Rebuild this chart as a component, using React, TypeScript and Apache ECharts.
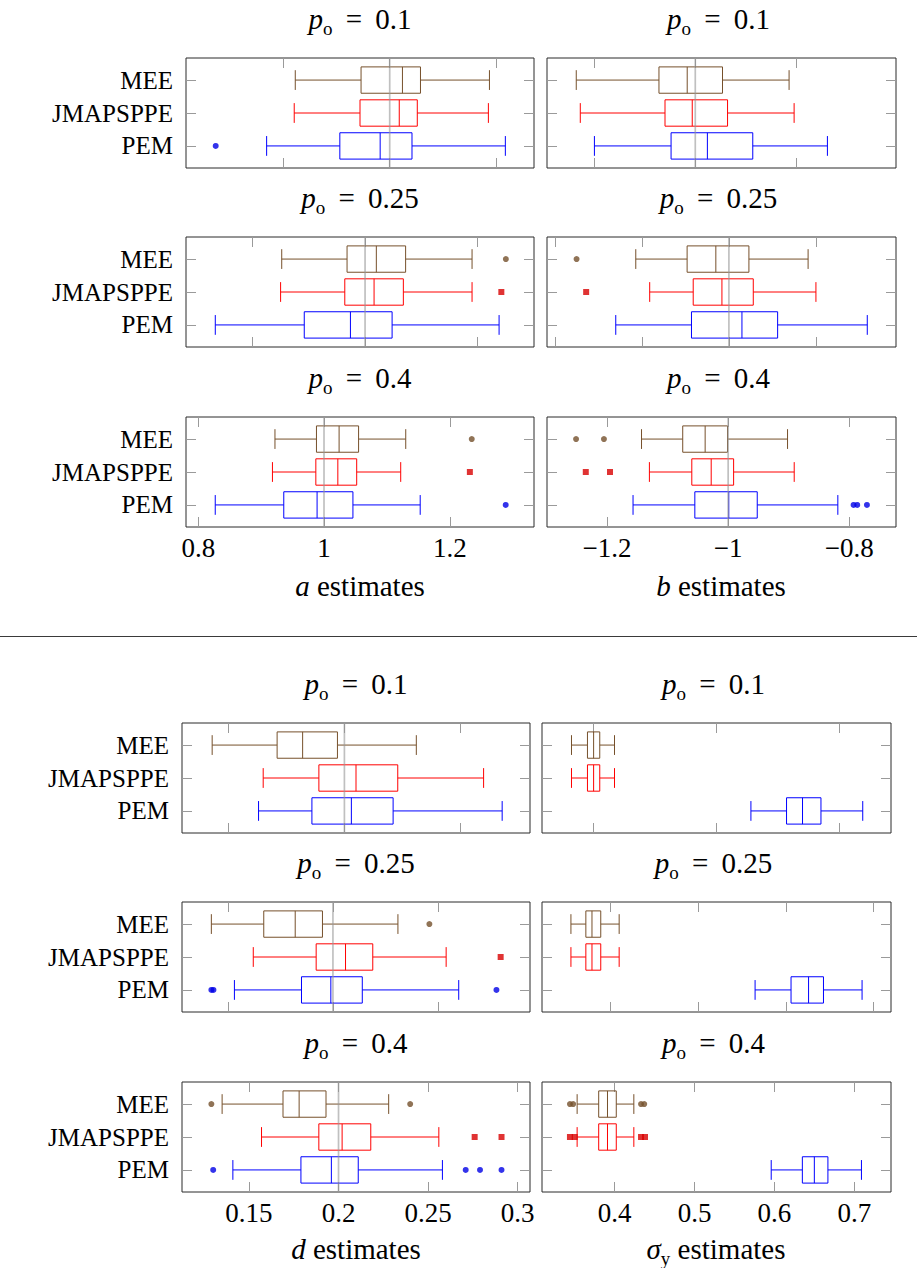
import React, { useEffect, useRef } from 'react';
import * as echarts from 'echarts';

const SERIF = 'Liberation Serif';

const methods = ['MEE', 'JMAPSPPE', 'PEM'];
const methodColors = ['#76502b', '#ff0000', '#0000ff'];
const outlierColors = ['#74502c', '#d80000', '#0000e6'];
const outlierSymbols = ['circle', 'rect', 'circle'];
const outlierProbs = ['0.1', '0.25', '0.4'];

// Five-number summaries [min, Q1, median, Q3, max], rows: MEE, JMAPSPPE, PEM
const aBoxes01 = [[0.911, 0.973, 1.012, 1.029, 1.094], [0.910, 0.972, 1.009, 1.026, 1.093], [0.884, 0.953, 0.991, 1.021, 1.109]];
const aOutliers01 = [[], [], [0.836]];
const aBoxes025 = [[0.926, 0.984, 1.010, 1.036, 1.095], [0.925, 0.982, 1.008, 1.034, 1.095], [0.867, 0.946, 0.987, 1.024, 1.119]];
const aOutliers025 = [[1.125], [1.121], []];
const aBoxes04 = [[0.922, 0.988, 1.024, 1.055, 1.130], [0.918, 0.987, 1.022, 1.052, 1.122], [0.827, 0.936, 0.989, 1.046, 1.153]];
const aOutliers04 = [[1.235], [1.232], [1.289]];

const bBoxes01 = [[-1.118, -1.036, -1.008, -0.973, -0.907], [-1.114, -1.030, -1.003, -0.968, -0.902], [-1.100, -1.024, -0.988, -0.943, -0.869]];
const bOutliers01 = [[], [], []];
const bBoxes025 = [[-1.107, -1.048, -1.015, -0.977, -0.909], [-1.091, -1.041, -1.008, -0.972, -0.900], [-1.130, -1.043, -0.985, -0.944, -0.841]];
const bOutliers025 = [[-1.175], [-1.164], []];
const bBoxes04 = [[-1.143, -1.075, -1.038, -1.001, -0.902], [-1.130, -1.060, -1.028, -0.991, -0.891], [-1.157, -1.055, -0.999, -0.952, -0.819]];
const bOutliers04 = [[-1.251, -1.205], [-1.235, -1.195], [-0.793, -0.787, -0.771]];

const dBoxes01 = [[0.143, 0.171, 0.182, 0.197, 0.231], [0.165, 0.189, 0.205, 0.223, 0.260], [0.163, 0.186, 0.203, 0.221, 0.268]];
const dOutliers01 = [[], [], []];
const dBoxes025 = [[0.142, 0.167, 0.182, 0.195, 0.231], [0.162, 0.192, 0.206, 0.219, 0.254], [0.153, 0.185, 0.199, 0.214, 0.260]];
const dOutliers025 = [[0.246], [0.280], [0.142, 0.143, 0.278]];
const dBoxes04 = [[0.135, 0.169, 0.178, 0.193, 0.228], [0.157, 0.189, 0.202, 0.218, 0.256], [0.141, 0.179, 0.196, 0.211, 0.258]];
const dOutliers04 = [[0.129, 0.240], [0.276, 0.291], [0.130, 0.271, 0.279, 0.291]];

const sBoxes01 = [[0.382, 0.395, 0.400, 0.405, 0.417], [0.382, 0.395, 0.400, 0.405, 0.417], [0.528, 0.557, 0.570, 0.585, 0.619]];
const sOutliers01 = [[], [], []];
const sBoxes025 = [[0.355, 0.372, 0.379, 0.389, 0.410], [0.355, 0.372, 0.379, 0.389, 0.410], [0.565, 0.606, 0.626, 0.643, 0.687]];
const sOutliers025 = [[], [], []];
const sBoxes04 = [[0.353, 0.380, 0.391, 0.402, 0.424], [0.353, 0.380, 0.391, 0.402, 0.424], [0.596, 0.635, 0.650, 0.667, 0.709]];
const sOutliers04 = [[0.344, 0.348, 0.433, 0.437], [0.344, 0.350, 0.433, 0.438], []];

// Axis ticks per panel
const aTicks01 = [0.9, 1, 1.1];
const aTicks025 = [0.9, 1, 1.1];
const aTicks04 = [0.8, 1, 1.2];
const bTicks01 = [-1.1, -1, -0.9];
const bTicks025 = [-1.2, -1.1, -1, -0.9];
const bTicks04 = [-1.2, -1, -0.8];
const dTicks01 = [0.15, 0.2, 0.25];
const dTicks025 = [0.15, 0.2, 0.25];
const dTicks04 = [0.15, 0.2, 0.25, 0.3];
const sTicks01 = [0.4, 0.5, 0.6];
const sTicks025 = [0.4, 0.5, 0.6, 0.7];
const sTicks04 = [0.4, 0.5, 0.6, 0.7];

type Panel = {
  boxes: number[][];
  outliers: number[][];
  min: number;
  max: number;
  ticks: number[];
  truth: number | null;
  labeled: boolean;
  leftCol: boolean;
  left: number;
  top: number;
  width: number;
  height: number;
  title: string;
};

const TOP_L = 186, TOP_R = 547, BOT_L = 182, BOT_R = 542;
const W = 348, H = 110;
const topRows = [58, 237, 417];
const botRows = [723, 902, 1082];

const panels: Panel[] = [
  { boxes: aBoxes01, outliers: aOutliers01, min: 0.808, max: 1.136, ticks: aTicks01, truth: 1, labeled: false, leftCol: true, left: TOP_L, top: topRows[0], width: W, height: H, title: outlierProbs[0] },
  { boxes: bBoxes01, outliers: bOutliers01, min: -1.147, max: -0.801, ticks: bTicks01, truth: -1, labeled: false, leftCol: false, left: TOP_R, top: topRows[0], width: W + 1, height: H, title: outlierProbs[0] },
  { boxes: aBoxes025, outliers: aOutliers025, min: 0.841, max: 1.150, ticks: aTicks025, truth: 1, labeled: false, leftCol: true, left: TOP_L, top: topRows[1], width: W, height: H, title: outlierProbs[1] },
  { boxes: bBoxes025, outliers: bOutliers025, min: -1.209, max: -0.808, ticks: bTicks025, truth: -1, labeled: false, leftCol: false, left: TOP_R, top: topRows[1], width: W + 1, height: H, title: outlierProbs[1] },
  { boxes: aBoxes04, outliers: aOutliers04, min: 0.7805, max: 1.334, ticks: aTicks04, truth: 1, labeled: true, leftCol: true, left: TOP_L, top: topRows[2], width: W, height: H, title: outlierProbs[2] },
  { boxes: bBoxes04, outliers: bOutliers04, min: -1.299, max: -0.723, ticks: bTicks04, truth: -1, labeled: true, leftCol: false, left: TOP_R, top: topRows[2], width: W + 1, height: H, title: outlierProbs[2] },
  { boxes: dBoxes01, outliers: dOutliers01, min: 0.130, max: 0.280, ticks: dTicks01, truth: 0.2, labeled: false, leftCol: true, left: BOT_L, top: botRows[0], width: W, height: H, title: outlierProbs[0] },
  { boxes: sBoxes01, outliers: sOutliers01, min: 0.358, max: 0.642, ticks: sTicks01, truth: null, labeled: false, leftCol: false, left: BOT_R, top: botRows[0], width: W + 1, height: H, title: outlierProbs[0] },
  { boxes: dBoxes025, outliers: dOutliers025, min: 0.128, max: 0.294, ticks: dTicks025, truth: 0.2, labeled: false, leftCol: true, left: BOT_L, top: botRows[1], width: W, height: H, title: outlierProbs[1] },
  { boxes: sBoxes025, outliers: sOutliers025, min: 0.322, max: 0.720, ticks: sTicks025, truth: null, labeled: false, leftCol: false, left: BOT_R, top: botRows[1], width: W + 1, height: H, title: outlierProbs[1] },
  { boxes: dBoxes04, outliers: dOutliers04, min: 0.1126, max: 0.3069, ticks: dTicks04, truth: 0.2, labeled: true, leftCol: true, left: BOT_L, top: botRows[2], width: W, height: H, title: outlierProbs[2] },
  { boxes: sBoxes04, outliers: sOutliers04, min: 0.309, max: 0.746, ticks: sTicks04, truth: null, labeled: true, leftCol: false, left: BOT_R, top: botRows[2], width: W + 1, height: H, title: outlierProbs[2] },
];

const Y_MIN = 0.33, Y_MAX = 3.67;
const BOX_HALF = 0.4, CAP_HALF = 0.3;
const TICK_COLOR = '#9a9a9a';

// MEE on top, PEM at the bottom
const rowOf = (m: number) => 3 - m;

const fmtTick = (v: number) => {
  const s = String(Number(v.toFixed(4)));
  return s.startsWith('-') ? '\u2212' + s.slice(1) : s;
};

const renderBox = (params: any, api: any) => {
  const y = api.value(0);
  const c = api.value(6);
  const pMin = api.coord([api.value(1), y]);
  const xQ1 = api.coord([api.value(2), y])[0];
  const xMed = api.coord([api.value(3), y])[0];
  const xQ3 = api.coord([api.value(4), y])[0];
  const xMax = api.coord([api.value(5), y])[0];
  const yc = pMin[1];
  const bh = api.size([0, BOX_HALF])[1];
  const ch = api.size([0, CAP_HALF])[1];
  const style = { stroke: methodColors[c], fill: 'none', lineWidth: 1 };
  return {
    type: 'group',
    children: [
      { type: 'line', shape: { x1: pMin[0], y1: yc, x2: xQ1, y2: yc }, style },
      { type: 'line', shape: { x1: xQ3, y1: yc, x2: xMax, y2: yc }, style },
      { type: 'line', shape: { x1: pMin[0], y1: yc - ch, x2: pMin[0], y2: yc + ch }, style },
      { type: 'line', shape: { x1: xMax, y1: yc - ch, x2: xMax, y2: yc + ch }, style },
      { type: 'rect', shape: { x: xQ1, y: yc - bh, width: xQ3 - xQ1, height: 2 * bh }, style },
      { type: 'line', shape: { x1: xMed, y1: yc - bh, x2: xMed, y2: yc + bh }, style },
    ],
  };
};

const makeRich = (size: number, subSize: number, eqPad: number) => ({
  i: { fontFamily: SERIF, fontStyle: 'italic', fontSize: size, lineHeight: size + 8, fill: '#000' },
  s: { fontFamily: SERIF, fontSize: subSize, lineHeight: subSize, verticalAlign: 'bottom', fill: '#000' },
  e: { fontFamily: SERIF, fontSize: size, lineHeight: size + 8, fill: '#000', padding: [0, eqPad, 0, eqPad] },
  n: { fontFamily: SERIF, fontSize: size, lineHeight: size + 8, fill: '#000' },
});

const richText = (x: number, y: number, text: string, size: number, subSize: number, eqPad = 0) => ({
  type: 'text',
  x,
  y,
  style: {
    text,
    fontFamily: SERIF,
    fontSize: size,
    rich: makeRich(size, subSize, eqPad),
    align: 'center',
    verticalAlign: 'middle',
    fill: '#000',
  },
});

const xNames = [
  { text: '{i|a}{n| estimates}', x: 360, y: 586 },
  { text: '{i|b}{n| estimates}', x: 721, y: 586 },
  { text: '{i|d}{n| estimates}', x: 356, y: 1249 },
  { text: '{i|\u03c3}{s|y}{n| estimates}', x: 716, y: 1249 },
];

function buildOption() {
  const grid: any[] = [];
  const xAxis: any[] = [];
  const yAxis: any[] = [];
  const series: any[] = [];
  const graphic: any[] = [];

  panels.forEach((p, gi) => {
    grid.push({
      left: p.left, top: p.top, width: p.width, height: p.height,
      show: true, borderColor: '#2b2b2b', borderWidth: 1, backgroundColor: 'transparent',
    });
    const tickCfg = {
      show: true, inside: true, length: 10, customValues: p.ticks,
      lineStyle: { color: TICK_COLOR, width: 1 },
    };
    xAxis.push({
      type: 'value', gridIndex: gi, position: 'bottom', min: p.min, max: p.max,
      axisLine: { show: false }, splitLine: { show: false }, axisTick: tickCfg,
      axisLabel: {
        show: p.labeled, customValues: p.ticks, formatter: fmtTick, margin: 7,
        color: '#000', fontFamily: SERIF, fontSize: 27,
      },
    });
    xAxis.push({
      type: 'value', gridIndex: gi, position: 'top', min: p.min, max: p.max,
      axisLine: { show: false }, splitLine: { show: false }, axisTick: tickCfg,
      axisLabel: { show: false },
    });
    const yTick = {
      show: true, inside: true, length: 10, customValues: [1, 2, 3],
      lineStyle: { color: TICK_COLOR, width: 1 },
    };
    yAxis.push({
      type: 'value', gridIndex: gi, position: 'left', min: Y_MIN, max: Y_MAX,
      axisLine: { show: false }, splitLine: { show: false }, axisTick: yTick,
      axisLabel: {
        show: p.leftCol, customValues: [1, 2, 3], margin: 13,
        formatter: (v: number) => methods[3 - Math.round(v)],
        color: '#000', fontFamily: SERIF, fontSize: 25,
      },
    });
    yAxis.push({
      type: 'value', gridIndex: gi, position: 'right', min: Y_MIN, max: Y_MAX,
      axisLine: { show: false }, splitLine: { show: false }, axisTick: yTick,
      axisLabel: { show: false },
    });

    const xi = gi * 2, yi = gi * 2;
    series.push({
      type: 'custom', xAxisIndex: xi, yAxisIndex: yi,
      renderItem: renderBox,
      dimensions: ['row', 'min', 'q1', 'median', 'q3', 'max', 'method'],
      encode: { x: [1, 2, 3, 4, 5], y: 0 },
      data: p.boxes.map((b, m) => [rowOf(m), ...b, m]),
      z: 2,
      silent: true,
    });
    p.outliers.forEach((vals, m) => {
      if (!vals.length) return;
      series.push({
        type: 'scatter', xAxisIndex: xi, yAxisIndex: yi,
        symbol: outlierSymbols[m], symbolSize: 6,
        itemStyle: { color: outlierColors[m] },
        data: vals.map((v) => [v, rowOf(m)]),
        z: 3,
        silent: true,
      });
    });
    if (p.truth !== null) {
      series.push({
        type: 'line', xAxisIndex: xi, yAxisIndex: yi,
        symbol: 'none', silent: true,
        lineStyle: { color: 'rgba(150,150,150,0.6)', width: 1.7 },
        data: [[p.truth, Y_MIN], [p.truth, Y_MAX]],
        z: 4,
      });
    }

    const cx = p.left + p.width / 2 - (p.leftCol ? 0 : 3);
    graphic.push(richText(cx, p.top - 39, `{i|p}{s|o}{e| = }{n|${p.title}}`, 29, 19, 6));
  });

  xNames.forEach((n) => graphic.push(richText(n.x, n.y, n.text, 29, 19)));
  graphic.push({
    type: 'line',
    shape: { x1: 0, y1: 636.5, x2: 917, y2: 636.5 },
    style: { stroke: '#3a3a3a', lineWidth: 1 },
  });

  return {
    animation: false,
    backgroundColor: '#ffffff',
    textStyle: { fontFamily: SERIF },
    grid, xAxis, yAxis, series, graphic,
  };
}

export default function App() {
  const ref = useRef<HTMLDivElement>(null);
  useEffect(() => {
    if (!ref.current) return;
    const chart = echarts.init(ref.current, null, { renderer: 'svg' });
    chart.setOption(buildOption() as any);
    return () => chart.dispose();
  }, []);
  return (
    <div
      ref={ref}
      style={{ position: 'absolute', left: 0, top: 0, width: 917, height: 1268, background: '#fff' }}
    />
  );
}
